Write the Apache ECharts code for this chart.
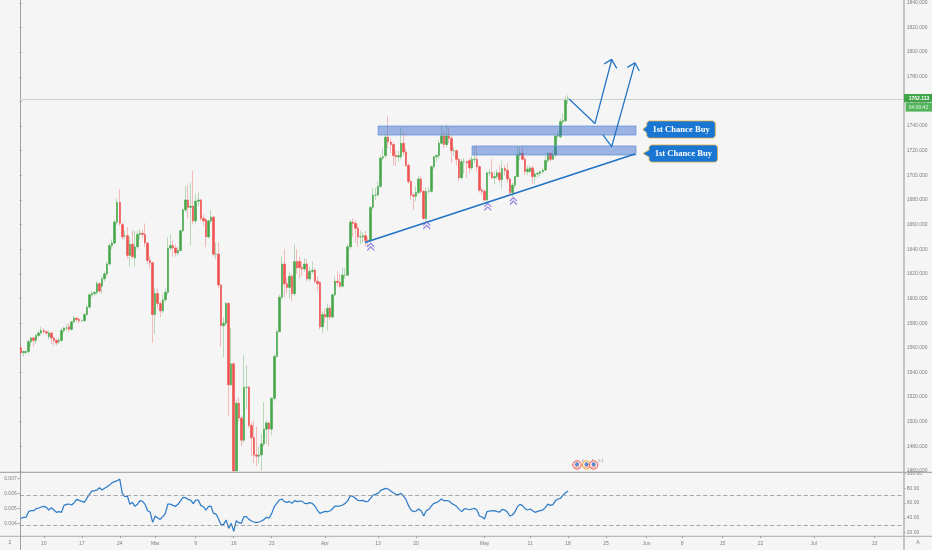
<!DOCTYPE html>
<html>
<head>
<meta charset="utf-8">
<style>
html,body{margin:0;padding:0;background:#f5f5f5;}
#c{width:932px;height:550px;filter:blur(0.4px);}
</style>
<script src="https://cdn.jsdelivr.net/npm/echarts@6/dist/echarts.min.js"></script>
</head>
<body>
<div id="c"></div>
<script>
const open=[1560,1556,1556,1557,1565,1568,1566,1570,1572,1574,
1573,1569,1572,1568,1566,1565,1566,1574,1576,1577,
1575,1581,1584,1583,1582,1582,1587,1593,1603,1604,
1605,1612,1610,1616,1620,1628,1643,1645,1662,1678,
1660,1651,1651,1635,1644,1633,1642,1652,1653,1652,
1645,1631,1629,1587,1604,1596,1590,1599,1605,1641,
1643,1641,1637,1639,1655,1672,1680,1674,1675,1663,
1679,1680,1665,1664,1650,1663,1666,1636,1636,1611,
1578,1580,1596,1530,1547,1460,1515,1503,1485,1528,
1528,1497,1487,1473,1472,1473,1482,1494,1499,1494,
1519,1553,1573,1601,1628,1612,1609,1618,1604,1630,
1630,1625,1624,1628,1616,1622,1623,1614,1613,1577,
1587,1585,1592,1585,1603,1614,1613,1610,1619,1619,
1642,1662,1661,1657,1650,1650,1651,1647,1647,1674,
1684,1684,1691,1714,1716,1731,1727,1725,1716,1715,
1715,1726,1719,1708,1695,1684,1683,1686,1697,1687,
1665,1687,1687,1707,1715,1716,1726,1732,1725,1732,
1730,1720,1720,1713,1698,1711,1711,1712,1706,1713,
1713,1707,1688,1687,1680,1702,1702,1698,1699,1702,
1696.5,1705.6,1704,1697,1686,1692,1699,1716.5,1718,1713,
1703,1703,1706,1699,1701,1701.6,1703,1704.3,1712,1717.8,
1713,1716.5,1731.9,1731.3,1743.5,1744.3,1761.6];
const close=[1556,1557,1557,1565,1568,1566,1570,1572,1574,1573,
1572,1572,1568,1566,1564,1566,1574,1576,1576,1575,
1581,1584,1583,1582,1582,1587,1593,1603,1604,1605,
1612,1606,1616,1620,1628,1643,1645,1662,1678,1661,
1650,1651,1635,1644,1634,1642,1652,1653,1652,1645,
1631,1629,1587,1604,1596,1590,1599,1605,1641,1643,
1641,1637,1639,1655,1672,1680,1674,1675,1663,1679,
1680,1665,1663,1650,1663,1666,1636,1636,1611,1578,
1580,1596,1530,1547,1460,1515,1503,1485,1528,1528,
1497,1487,1473,1472,1473,1482,1494,1499,1494,1519,
1553,1573,1601,1628,1612,1609,1618,1604,1630,1625,
1625,1624,1628,1616,1622,1623,1614,1612,1577,1587,
1585,1592,1585,1603,1614,1613,1610,1619,1619,1642,
1662,1661,1657,1650,1650,1651,1647,1646,1674,1684,
1684,1691,1714,1715,1731,1727,1725,1716,1715,1716,
1726,1719,1708,1695,1684,1683,1686,1697,1687,1665,
1687,1687,1707,1715,1716,1726,1732,1725,1732,1730,
1720,1720,1713,1698,1711,1711,1710,1706,1713,1713,
1707,1688,1687,1680,1702,1702,1698,1699,1702,1696.5,
1705.6,1704,1697,1686,1692,1699,1716.5,1718,1713,1703,
1705,1706,1699,1701,1701.6,1703,1704.3,1712,1717.8,1713,
1716.5,1731.9,1732.7,1743.5,1744.3,1761.6,1762.1];
const high=[1561,1558,1558,1567,1569,1569,1571,1574,1577,1576,
1574,1574,1573,1569,1567,1568,1576,1577,1579,1580,
1582,1586,1585,1584,1583,1588,1595,1604,1606,1606,
1614,1613,1618,1622,1630,1645,1648,1664,1681,1689,
1662,1655,1658,1650,1655,1655,1655,1656,1656,1661,
1646,1634,1630,1608,1608,1598,1603,1608,1650,1652,
1647,1644,1642,1656,1673,1691,1692,1694,1704,1685,
1686,1681,1668,1665,1664,1672,1667,1645,1646,1612,
1585,1597,1597,1576,1548,1518,1520,1505,1554,1546,
1529,1500,1501,1496,1480,1490,1516,1501,1500,1520,
1555,1575,1603,1634,1640,1617,1622,1620,1644,1640,
1634,1630,1633,1632,1626,1630,1625,1618,1614,1590,
1592,1596,1594,1604,1618,1622,1620,1625,1625,1644,
1664,1665,1664,1660,1655,1654,1655,1650,1675,1690,
1690,1695,1716,1722,1733,1748,1730,1727,1720,1720,
1739,1735,1722,1710,1696,1686,1691,1700,1699,1688,
1690,1690,1708,1716,1717,1728,1740,1736,1741,1739,
1732,1723,1721,1714,1713,1714,1712,1714,1716,1723,
1724,1708,1690,1689,1703,1705,1713,1703,1705,1708,
1712,1708,1710,1698,1694,1700,1723,1723,1724,1715,
1708,1708,1708,1704,1703,1704,1706,1716,1719,1719,
1720,1733,1735,1746,1750,1764,1765];
const low=[1554,1553,1555,1555,1561,1561,1563,1568,1570,1571,
1570,1567,1563,1562,1562,1563,1565,1572,1574,1573,
1574,1580,1581,1580,1581,1581,1586,1592,1601,1602,
1603,1605,1604,1614,1618,1627,1640,1644,1660,1659,
1648,1648,1632,1626,1632,1626,1640,1648,1649,1642,
1628,1625,1564,1571,1592,1585,1588,1597,1603,1639,
1634,1634,1635,1638,1654,1670,1665,1643,1660,1661,
1675,1663,1659,1642,1649,1661,1634,1632,1608,1561,
1552,1578,1505,1529,1460,1460,1500,1480,1483,1510,
1495,1472,1466,1464,1466,1460,1480,1482,1480,1489,
1517,1552,1573,1599,1601,1604,1600,1598,1602,1620,
1616,1618,1622,1614,1614,1620,1612,1606,1575,1572,
1580,1574,1583,1584,1602,1610,1608,1609,1616,1618,
1640,1650,1645,1642,1644,1645,1642,1642,1646,1672,
1680,1683,1690,1712,1714,1722,1718,1708,1708,1711,
1713,1716,1707,1693,1680,1672,1679,1684,1685,1664,
1663,1685,1686,1705,1711,1713,1725,1722,1723,1726,
1710,1716,1708,1695,1697,1701,1698,1702,1704,1710,
1703,1686,1684,1679,1677,1699,1697,1693,1697,1694,
1689,1700,1694,1684,1682.6,1690,1698,1712,1712,1700,
1700,1702,1693,1693,1698,1699,1701,1703,1710,1711,
1712,1715,1730,1730,1741,1743,1758];
const rsi=[39.4,40.7,40.7,48.4,49.7,49.7,52.4,53.3,54.7,55.6,
54.2,50.6,53.8,50.6,47.5,48.4,47.5,56.9,58.3,58.7,
57.4,60.5,65,63.7,62.3,61,66.4,71.8,76.3,76.8,
77.6,80.8,77.6,79.9,82.2,84.4,87.6,88.9,90.3,92.5,
73.1,68.6,69.5,58.3,61,55.6,58.3,63.2,62.3,58.3,
49.7,47.9,33.9,42.5,39.8,38,41.6,46.1,58.7,58.7,
56.9,55.6,58.3,63.2,67.7,67.3,65,64.1,59.2,64.1,
64.1,56.9,55.1,50.6,55.1,56,46.1,45.2,38.5,30.8,
31.3,37.1,25.8,32.6,21.8,36.2,33.5,32.6,41.6,41.6,
38,35.8,34.4,33.9,34.4,35.8,38,40.7,39.8,46.1,
55.1,59.6,64.1,65.5,61.9,61,62.3,59.6,63.2,61.9,
62.8,62.3,59.6,59.2,60.5,59.6,56,50.6,46.1,47.5,
48.8,48.4,49.3,52.4,56,56,56,57.4,59.6,63.2,
70,69.1,66.4,63.7,63.2,63.7,61.9,62.3,66.4,70.9,
71.8,73.2,77.2,78.6,79.9,79,76.3,74,71.8,71.3,
73.2,69.5,65,56.5,50.6,48.4,49.3,52,49.3,42.5,
49.7,51.5,56,59.6,60.5,62.8,65.5,63.2,63.2,62.8,
59.6,57.8,55.6,51.5,48.4,52,52,51,52,52.9,
50.6,42.5,41.2,38.5,48.4,49.3,49.3,49.7,48.4,47.9,
51.5,50.6,47.9,42.5,43.9,47.9,55.1,58.3,56.5,52.4,
50.6,52,49.7,47.5,48.8,49.7,50.6,53.8,58.7,56.9,
57.8,63.2,65.5,66.4,70.9,74,76.3];
const slotCount=349;
const tickIdx=[9,24,39,53,69,84,99,120,141,156,183,201,216,231,247,261,277,292,313,337];
const tickLabels=['10','17','24','Mar','9','16','23','Apr','13','20','May','11','18','25','Jun','8','15','22','Jul','13'];
const priceTicks=[1460,1480,1500,1520,1540,1560,1580,1600,1620,1640,1660,1680,1700,1720,1740,1760,1780,1800,1820,1840];
const rsiTicks=[20,40,60,80,100];
const rsiLevels=[70,30];
const leftTicks=[0.004,0.005,0.006,0.007];
const lastPrice=1762.113;
const lastTimer='04:00:42';
const zoneA=[141.5,1740,243.3,1732.7];
const zoneB=[178.6,1723.8,243.3,1716.5];
const trendLine=[[136.3,1645.4],[242.9,1717.3]];
const arrowOne=[[216.9,1761.9],[227.1,1742],[233.7,1793.6]];
const arrowOneHead=[[230.7,1790.3],[233.7,1794.1],[235.7,1786.8]];
const arrowTwo=[[230.2,1733.1],[233.7,1723.2],[242.9,1791.1]];
const arrowTwoHead=[[239.9,1787.6],[242.9,1791.4],[244.6,1784.6]];
const chevrons=[[138.6,1642],[160.7,1659.4],[184.8,1674.3],[194.9,1679.1]];
const calloutText='1st Chance Buy';
const callouts=[[246,1737.2],[246.1,1717.7]];
const events=[[220,1464.9,'4','#ef5350'],[223.8,1464.9,'4','#f5a623'],[226.6,1464.9,'5 1','#ef5350']];

const GREEN='#47a84b',RED='#ef5350',BLUE='#1f73c4';
const axisFont={color:'#7f7f7f',fontSize:5,fontFamily:'"Liberation Sans",sans-serif'};
const wickData=open.map((o,i)=>[o,close[i],low[i],high[i]]);
const bodyData=open.map((o,i)=>[o,close[i],Math.min(o,close[i]),Math.max(o,close[i])]);
const cats=Array.from({length:slotCount},(_,i)=>{const k=tickIdx.indexOf(i);return k<0?'':tickLabels[k];});
const isTick=i=>tickIdx.indexOf(i)>=0;

function lineSeries(data,width){
  return {type:'line',xAxisIndex:1,yAxisIndex:0,data:data,symbol:'none',silent:true,z:6,
    lineStyle:{color:BLUE,width:width},clip:false};
}

const option={
  animation:false,
  backgroundColor:'#f5f5f5',
  grid:[
    {left:19.7,top:0,width:884,height:471},
    {left:19.7,top:472,width:884,height:64}
  ],
  xAxis:[
    {type:'category',gridIndex:0,data:cats,show:false},
    {type:'value',gridIndex:0,min:0,max:slotCount,show:false},
    {type:'category',gridIndex:1,data:cats,position:'bottom',
      axisLine:{show:false},
      axisTick:{show:true,length:2,alignWithLabel:true,interval:(i)=>isTick(i),lineStyle:{color:'#999'}},
      axisLabel:Object.assign({},axisFont,{interval:(i)=>isTick(i),margin:5.5,showMinLabel:true,showMaxLabel:true}),
      splitLine:{show:false}}
  ],
  yAxis:[
    {type:'value',gridIndex:0,position:'right',min:1460,max:1842.3,
      axisLine:{show:false},
      axisTick:{show:true,length:2,customValues:priceTicks,lineStyle:{color:'#999'}},
      axisLabel:Object.assign({},axisFont,{customValues:priceTicks,margin:3,align:'left',formatter:v=>v.toFixed(3)}),
      splitLine:{show:false}},
    {type:'value',gridIndex:1,position:'right',min:15.5,max:102,
      axisLine:{show:false},
      axisTick:{show:true,length:2,customValues:rsiTicks,lineStyle:{color:'#999'}},
      axisLabel:Object.assign({},axisFont,{customValues:rsiTicks,margin:3,align:'left',formatter:v=>v.toFixed(2)}),
      splitLine:{show:false}},
    {type:'value',gridIndex:1,position:'left',min:0.00318,max:0.00745,
      axisLine:{show:false},
      axisTick:{show:true,length:2,customValues:leftTicks,lineStyle:{color:'#999'}},
      axisLabel:Object.assign({},axisFont,{customValues:leftTicks,margin:3,formatter:v=>v.toFixed(3)}),
      splitLine:{show:false}}
  ],
  series:[
    {type:'candlestick',xAxisIndex:0,yAxisIndex:0,barWidth:1,data:wickData,silent:true,z:2,
      itemStyle:{color:'rgba(71,168,75,.36)',color0:'rgba(239,83,80,.36)',
        borderColor:'rgba(71,168,75,.36)',borderColor0:'rgba(239,83,80,.36)',borderWidth:1},
      markLine:{silent:true,symbol:'none',label:{show:false},
        lineStyle:{color:'#c4d5c8',width:1,type:'solid'},data:[{yAxis:lastPrice}]}},
    {type:'candlestick',xAxisIndex:0,yAxisIndex:0,barWidth:2,data:bodyData,silent:true,z:3,
      itemStyle:{color:GREEN,color0:RED,borderColor:GREEN,borderColor0:RED,borderWidth:0.6}},
    {type:'custom',xAxisIndex:1,yAxisIndex:0,silent:true,z:5,clip:false,
      encode:{x:[0,2],y:[1,3]},data:[zoneA,zoneB],
      renderItem:(p,api)=>{
        const a=api.coord([api.value(0),api.value(1)]),b=api.coord([api.value(2),api.value(3)]);
        return {type:'rect',shape:{x:a[0],y:a[1],width:b[0]-a[0],height:b[1]-a[1]},
          style:{fill:'rgba(53,105,205,.47)',stroke:'#5d8ad8',lineWidth:0.7}};
      }},
    lineSeries(trendLine,1.5),
    lineSeries(arrowOne,1.25),
    lineSeries(arrowOneHead,1.25),
    lineSeries(arrowTwo,1.25),
    lineSeries(arrowTwoHead,1.25),
    {type:'scatter',xAxisIndex:1,yAxisIndex:0,data:chevrons,silent:true,z:6,
      symbol:'path://M0 5L4 1L8 5M0 9L4 5L8 9',symbolSize:[7,7],
      itemStyle:{color:'none',borderColor:'#6a5ad6',borderWidth:1.1}},
    {type:'custom',xAxisIndex:1,yAxisIndex:0,silent:true,z:7,clip:false,
      encode:{x:0,y:1},data:callouts,
      renderItem:(p,api)=>{
        const t=api.coord([api.value(0),api.value(1)]);
        const x=t[0],y=t[1];
        const L=x+4+(p.dataIndex*2),R=L+68.5,T=y-8.6,B=y+8.6,r=2;
        return {type:'group',children:[
          {type:'polygon',shape:{points:[[x,y],[L,y-3.5],[L,T+r],[L+r,T],[R-r,T],[R,T+r],[R,B-r],[R-r,B],[L+r,B],[L,B-r],[L,y+3.5]]},
            style:{fill:'#1976d2',stroke:'#e9b44c',lineWidth:0.8}},
          {type:'text',style:{x:(L+R)/2,y:y,text:calloutText,fill:'#fff',align:'center',verticalAlign:'middle',
            font:'bold 8.6px "Liberation Serif",serif'}}
        ]};
      }},
    {type:'custom',xAxisIndex:1,yAxisIndex:0,silent:true,z:7,clip:false,
      encode:{x:0,y:1},data:events,
      renderItem:(p,api)=>{
        const c=api.coord([api.value(0),api.value(1)]);
        const e=events[p.dataIndex];
        return {type:'group',children:[
          {type:'circle',shape:{cx:c[0],cy:c[1],r:4.2},style:{fill:'#f6e9e6',stroke:e[3],lineWidth:1}},
          {type:'circle',shape:{cx:c[0],cy:c[1]-0.8,r:2},style:{fill:'#5b86c9'}},
          {type:'rect',shape:{x:c[0]-2.2,y:c[1]+1.4,width:4.4,height:1},style:{fill:'#e9867f'}},
          {type:'text',style:{x:c[0]+4.6,y:c[1]-4.2,text:e[2],fill:'#888',font:'4px "Liberation Sans",sans-serif',align:'left',verticalAlign:'middle'}}
        ]};
      }},
    {type:'custom',xAxisIndex:1,yAxisIndex:0,silent:true,z:8,clip:false,
      encode:{x:0,y:1},data:[[slotCount,lastPrice]],
      renderItem:(p,api)=>{
        const c=api.coord([api.value(0),api.value(1)]);
        const x=c[0],y=c[1];
        return {type:'group',children:[
          {type:'rect',shape:{x:x+0.3,y:y-4.8,width:29,height:8.4},style:{fill:'#3fa447'}},
          {type:'rect',shape:{x:x+2,y:y+4.2,width:28,height:8.6},style:{fill:'#54b45a'}},
          {type:'text',style:{x:x+5,y:y-0.6,text:lastPrice.toFixed(3),fill:'#fff',font:'bold 5px "Liberation Sans",sans-serif',verticalAlign:'middle'}},
          {type:'text',style:{x:x+5,y:y+8.6,text:lastTimer,fill:'#e8f7e8',font:'5px "Liberation Sans",sans-serif',verticalAlign:'middle'}}
        ]};
      }},
    {type:'line',xAxisIndex:2,yAxisIndex:1,data:rsi,symbol:'none',silent:true,z:4,
      lineStyle:{color:'#2f7cc8',width:1.25},
      markLine:{silent:true,symbol:'none',label:{show:false},
        lineStyle:{color:'#939393',width:0.8,type:[4.2,2.5]},data:rsiLevels.map(v=>({yAxis:v}))}}
  ],
  graphic:[
    {type:'line',silent:true,z:1,shape:{x1:0,y1:472.3,x2:932,y2:472.3},style:{stroke:'#9a9a9a',lineWidth:1}},
    {type:'line',silent:true,z:1,shape:{x1:0,y1:536.3,x2:932,y2:536.3},style:{stroke:'#ababab',lineWidth:1}},
    {type:'line',silent:true,z:1,shape:{x1:20.5,y1:0,x2:20.5,y2:550},style:{stroke:'#a0a0a0',lineWidth:1}},
    {type:'line',silent:true,z:1,shape:{x1:904,y1:0,x2:904,y2:550},style:{stroke:'#b8b8b8',lineWidth:1.6}},
    {type:'text',silent:true,x:10,y:543,style:{text:'2',fill:'#7f7f7f',font:'5px "Liberation Sans",sans-serif',align:'center',verticalAlign:'middle'}},
    {type:'text',silent:true,x:918,y:542.5,style:{text:'A',fill:'#7f7f7f',font:'5px "Liberation Sans",sans-serif',align:'center',verticalAlign:'middle'}}
  ]
};
const chart=echarts.init(document.getElementById('c'),null,{renderer:'canvas'});
chart.setOption(option);
</script>
</body>
</html>
